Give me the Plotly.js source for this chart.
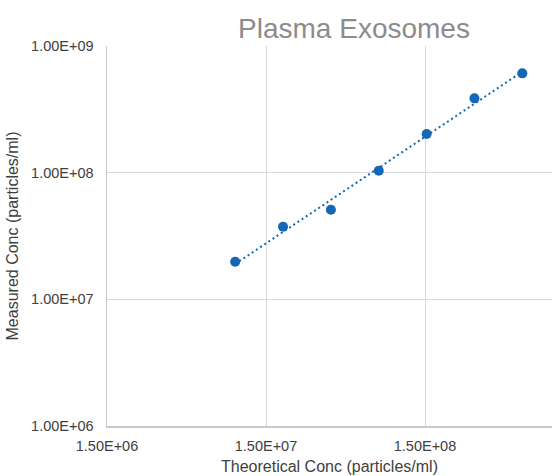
<!DOCTYPE html>
<html>
<head>
<meta charset="utf-8">
<script src="https://cdn.plot.ly/plotly-3.0.1.min.js"></script>
<style>html,body{margin:0;padding:0;background:#fff;}#chart{width:552px;height:476px;}</style>
</head>
<body>
<div id="chart"></div>
<script>
const theoreticalConc = [9.6e6, 1.92e7, 3.84e7, 7.68e7, 1.536e8, 3.07e8, 6.14e8];
const measuredConc = [1.98e7, 3.74e7, 5.10e7, 1.035e8, 2.02e8, 3.86e8, 6.08e8];
const xTickVals = [1.5e6, 1.5e7, 1.5e8];
const xTickText = ["1.50E+06", "1.50E+07", "1.50E+08"];
const yTickVals = [1e6, 1e7, 1e8, 1e9];
const yTickText = ["1.00E+06", "1.00E+07", "1.00E+08", "1.00E+09"];

// Power trendline (least squares in log-log space), as Excel does
const lx = theoreticalConc.map(Math.log10), ly = measuredConc.map(Math.log10);
const n = lx.length;
const mx = lx.reduce((a,b)=>a+b,0)/n, my = ly.reduce((a,b)=>a+b,0)/n;
let sxy = 0, sxx = 0;
for (let i=0;i<n;i++){ sxy += (lx[i]-mx)*(ly[i]-my); sxx += (lx[i]-mx)*(lx[i]-mx); }
const slope = sxy/sxx, icpt = my - slope*mx;
const trendX = [theoreticalConc[0], theoreticalConc[n-1]];
const trendY = trendX.map(v => Math.pow(10, icpt + slope*Math.log10(v)));

const blue = '#1467b2';
const font = 'Liberation Sans, Arial, sans-serif';

const traces = [
  {x: trendX, y: trendY, type: 'scatter', mode: 'lines',
   line: {color: blue, width: 2, dash: '2px,3px'}, hoverinfo: 'skip', showlegend: false},
  {x: theoreticalConc, y: measuredConc, type: 'scatter', mode: 'markers',
   marker: {color: blue, size: 10}, showlegend: false}
];

const layout = {
  width: 552, height: 476,
  margin: {l: 107, r: 0, t: 46, b: 50},
  paper_bgcolor: '#fff', plot_bgcolor: '#fff',
  font: {family: font, color: '#404040', size: 14},
  title: {text: 'Plasma Exosomes', font: {family: font, size: 28, color: '#8c8c8c'},
          xref: 'container', x: 354/552, xanchor: 'center',
          yref: 'container', y: 1 - 28/476, yanchor: 'middle'},
  xaxis: {type: 'log', range: [Math.log10(1.5e6), Math.log10(1.5e6) + 445/159],
          tickvals: xTickVals, ticktext: xTickText, ticks: '',
          showgrid: true, gridcolor: '#d9d9d9', gridwidth: 1,
          showline: true, linecolor: '#c8c8c8', linewidth: 1.5,
          zeroline: false, ticklabelstandoff: 6,
          tickfont: {size: 14.5, color: '#404040'},
          title: {text: 'Theoretical Conc (particles/ml)', font: {size: 16, color: '#404040'}, standoff: 8},
          automargin: false},
  yaxis: {type: 'log', range: [6, 9],
          tickvals: yTickVals, ticktext: yTickText, ticks: '',
          showgrid: true, gridcolor: '#d9d9d9', gridwidth: 1,
          showline: true, linecolor: '#c8c8c8', linewidth: 1.5,
          zeroline: false, ticklabelstandoff: 9,
          tickfont: {size: 14.5, color: '#404040'},
          title: {text: 'Measured Conc (particles/ml)', font: {size: 16, color: '#404040'}, standoff: 8},
          automargin: false}
};

Plotly.newPlot('chart', traces, layout, {displayModeBar: false, staticPlot: true});
</script>
</body>
</html>
